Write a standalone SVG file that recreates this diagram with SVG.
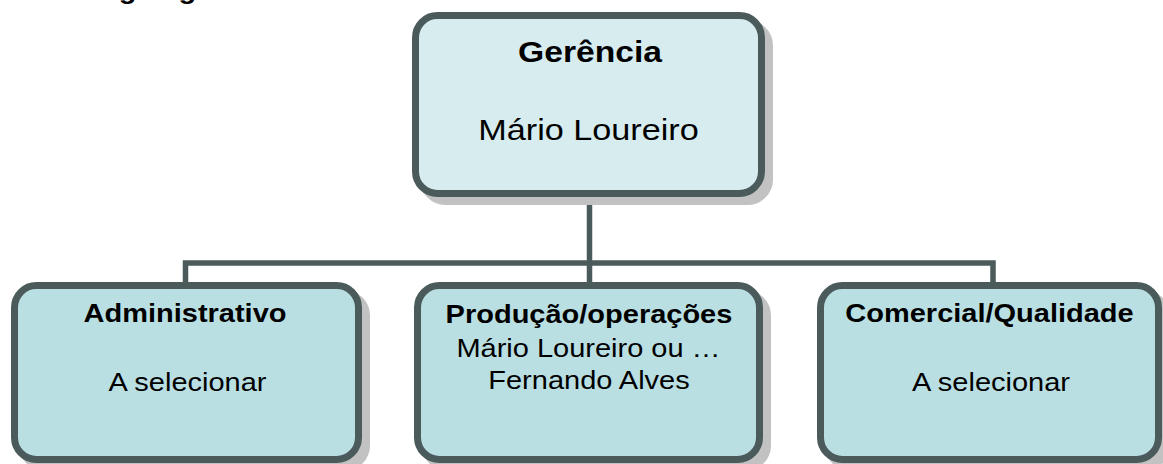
<svg xmlns="http://www.w3.org/2000/svg" width="1163" height="464" viewBox="0 0 1163 464">
<style>
.shadow{fill:#c2c2c2;stroke:#c2c2c2;stroke-width:7}
.top{fill:#d7ecef;stroke:#4b5a5b;stroke-width:7}
.box{fill:#b9dfe3;stroke:#4b5a5b;stroke-width:7}
.conn{fill:none;stroke:#4b5a5b;stroke-width:5.5}
text{font-family:"Liberation Sans",Arial,sans-serif;fill:#000;text-anchor:middle}
.tt{font-size:29px;font-weight:bold}
.tn{font-size:29.5px}
.bt{font-size:25px;font-weight:bold}
.bn{font-size:25px}
</style>
<rect width="1163" height="464" fill="#ffffff"/>
<text class="bt" transform="translate(85,-1) scale(1.16,1)" style="text-anchor:start">Organigrama</text>
<g id="connectors">
<path class="conn" d="M589.5 193 V263 M185.5 285 V263 H993 V285 M589.5 263 V285"/>
</g>
<g id="gerencia">
<rect class="shadow" x="423.5" y="23.5" width="346" height="178" rx="22"/>
<rect class="top" x="415.5" y="15.5" width="346" height="178" rx="22"/>
<text class="tt" transform="translate(590,62) scale(1.16,1)">Gerência</text>
<text class="tn" transform="translate(588.5,140) scale(1.16,1)">Mário Loureiro</text>
</g>
<g id="administrativo">
<rect class="shadow" x="22.5" y="293.5" width="344" height="174" rx="22"/>
<rect class="box" x="14.5" y="285.5" width="344" height="174" rx="22"/>
<text class="bt" transform="translate(185,322.3) scale(1.16,1)">Administrativo</text>
<text class="bn" transform="translate(187.5,390.5) scale(1.16,1)">A selecionar</text>
</g>
<g id="producao">
<rect class="shadow" x="425.5" y="293.5" width="342" height="174" rx="22"/>
<rect class="box" x="417.5" y="285.5" width="342" height="174" rx="22"/>
<text class="bt" transform="translate(589,322.7) scale(1.16,1)">Produção/operações</text>
<text class="bn" transform="translate(588.5,357.3) scale(1.16,1)">Mário Loureiro ou …</text>
<text class="bn" transform="translate(589,389) scale(1.16,1)">Fernando Alves</text>
</g>
<g id="comercial">
<rect class="shadow" x="828.5" y="293.5" width="338" height="174" rx="22"/>
<rect class="box" x="820.5" y="285.5" width="338" height="174" rx="22"/>
<text class="bt" transform="translate(989.5,322.3) scale(1.16,1)">Comercial/Qualidade</text>
<text class="bn" transform="translate(991,390.5) scale(1.16,1)">A selecionar</text>
</g>
</svg>
